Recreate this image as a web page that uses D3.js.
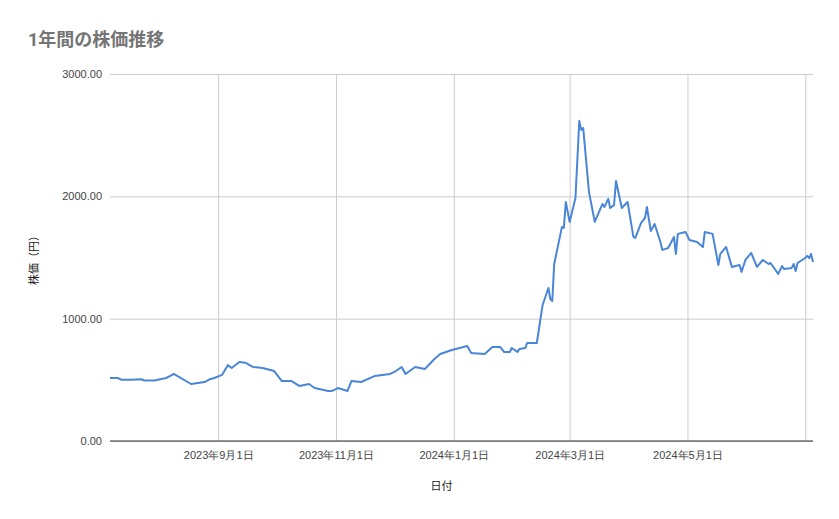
<!DOCTYPE html>
<html><head><meta charset="utf-8">
<script src="https://cdn.jsdelivr.net/npm/d3@7"></script>
<style>body{margin:0;background:#fff;font-family:Roboto,"Noto Sans CJK JP",sans-serif}</style>
</head><body><svg id="c" width="839" height="519"></svg>
<script>
const dates = ["2023-07-07","2023-07-11","2023-07-13","2023-07-18","2023-07-23","2023-07-25","2023-07-30","2023-08-02","2023-08-05","2023-08-07","2023-08-09","2023-08-18","2023-08-25","2023-08-28","2023-08-30","2023-09-03","2023-09-06","2023-09-08","2023-09-12","2023-09-15","2023-09-19","2023-09-24","2023-09-30","2023-10-04","2023-10-09","2023-10-13","2023-10-18","2023-10-21","2023-10-28","2023-10-30","2023-11-02","2023-11-07","2023-11-09","2023-11-14","2023-11-21","2023-11-29","2023-12-02","2023-12-05","2023-12-07","2023-12-12","2023-12-17","2023-12-22","2023-12-25","2023-12-31","2024-01-08","2024-01-10","2024-01-17","2024-01-21","2024-01-25","2024-01-27","2024-01-30","2024-01-31","2024-02-03","2024-02-04","2024-02-07","2024-02-08","2024-02-13","2024-02-16","2024-02-19","2024-02-20","2024-02-21","2024-02-22","2024-02-26","2024-02-27","2024-02-28","2024-03-01","2024-03-04","2024-03-06","2024-03-07","2024-03-08","2024-03-11","2024-03-14","2024-03-18","2024-03-19","2024-03-21","2024-03-22","2024-03-24","2024-03-25","2024-03-28","2024-03-31","2024-04-03","2024-04-04","2024-04-07","2024-04-09","2024-04-10","2024-04-12","2024-04-14","2024-04-17","2024-04-18","2024-04-21","2024-04-24","2024-04-25","2024-04-26","2024-04-30","2024-05-02","2024-05-06","2024-05-09","2024-05-10","2024-05-14","2024-05-17","2024-05-18","2024-05-21","2024-05-24","2024-05-28","2024-05-29","2024-05-31","2024-06-03","2024-06-06","2024-06-09","2024-06-12","2024-06-13","2024-06-17","2024-06-19","2024-06-20","2024-06-24","2024-06-25","2024-06-26","2024-06-27","2024-07-01","2024-07-02","2024-07-03","2024-07-04","2024-07-05"];
const prices = [515,515,500,500,505,495,495,505,515,530,548,466,482,507,515,540,620,597,646,640,605,597,572,490,490,450,466,433,409,409,433,409,490,482,531,548,572,605,548,605,589,670,711,744,777,720,711,769,769,728,728,760,728,752,760,801,801,1112,1251,1161,1145,1447,1750,1742,1954,1791,1987,2617,2543,2559,2036,1791,1938,1913,1979,1905,1930,2126,1905,1954,1668,1660,1783,1823,1913,1717,1774,1627,1562,1578,1668,1529,1693,1709,1643,1627,1586,1709,1693,1439,1529,1586,1423,1439,1382,1480,1537,1423,1480,1447,1455,1366,1431,1406,1415,1447,1390,1455,1496,1513,1496,1529,1464];
const xTicks = ["2023-09-01","2023-11-01","2024-01-01","2024-03-01","2024-05-01","2024-07-01"];
const yTicks = [0,1000,2000,3000];
const title = "1年間の株価推移", xTitle = "日付", yTitle = "株価（円）";

const p = d3.timeParse("%Y-%m-%d");
const svg = d3.select("#c");
const L=110,R=813,T=74,B=441;
const x = d3.scaleTime().domain([p("2023-07-07"),p("2024-07-05")]).range([L,R]);
const y = d3.scaleLinear().domain([0,3000]).range([B,T]);
const fmt = d=>`${d.getFullYear()}年${d.getMonth()+1}月${d.getDate()}日`;

svg.append("g").attr("transform",`translate(${L},0)`)
 .call(d3.axisLeft(y).tickValues(yTicks).tickSize(-(R-L)).tickSizeOuter(0).tickFormat(d=>d3.format(".2f")(d)).tickPadding(8))
 .call(g=>{g.select(".domain").remove();g.selectAll("line").attr("stroke","#ccc");
   g.selectAll("text").attr("fill","#444").style("font-size","11px");});
svg.append("g").attr("transform",`translate(0,${B})`)
 .call(d3.axisBottom(x).tickValues(xTicks.map(p)).tickSize(-(B-T)).tickSizeOuter(0).tickFormat(d=>d.getMonth()==6?"":fmt(d)).tickPadding(10))
 .call(g=>{g.select(".domain").remove();g.selectAll("line").attr("stroke","#ccc");
   g.selectAll("text").attr("fill","#444").style("font-size","11px");});
svg.append("line").attr("x1",L).attr("x2",R).attr("y1",y(0)).attr("y2",y(0)).attr("stroke","#333");

svg.append("path").datum(dates.map((d,i)=>[p(d),prices[i]]))
 .attr("fill","none").attr("stroke","#4a86d8").attr("stroke-width",2).attr("stroke-linejoin","round")
 .attr("d",d3.line().x(d=>x(d[0])).y(d=>y(d[1])));

svg.append("text").attr("x",28).attr("y",46).text(title).attr("fill","#757575").style("font-size","18px").style("font-weight","bold");
svg.append("text").attr("x",(L+R)/2-20).attr("y",490).attr("text-anchor","middle").text(xTitle).style("font-size","11px").attr("fill","#222");
svg.append("text").attr("transform",`translate(38,${(T+B)/2}) rotate(-90)`).attr("text-anchor","middle").text(yTitle).style("font-size","11px").attr("fill","#222");
</script></body></html>
